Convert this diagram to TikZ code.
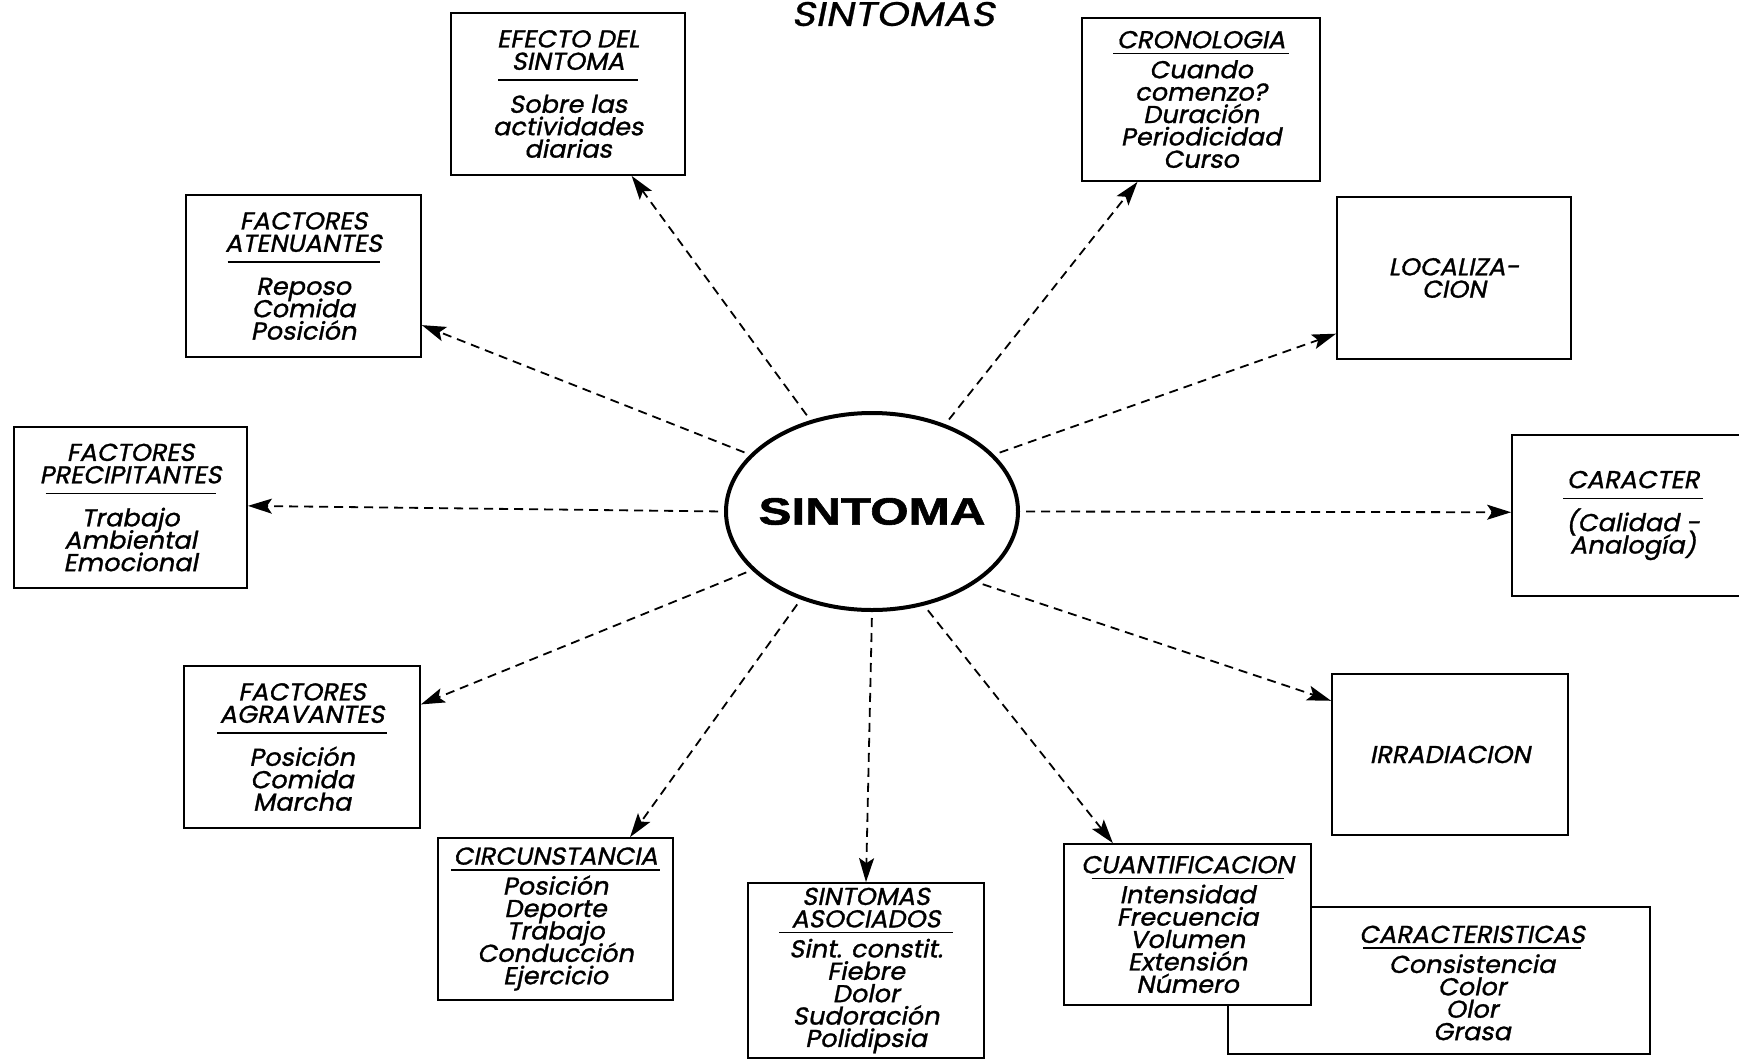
\documentclass[tikz,border=0pt]{standalone}
\usepackage{fontspec}
\usetikzlibrary{arrows.meta,calc,shapes.geometric}
\newfontfamily\gothic[FakeSlant=0.2,FakeBold=1.2,FakeStretch=1.05]{Poppins}
\newfontfamily\gothictitle[FakeSlant=0.2,FakeStretch=1.2,FakeBold=0.8]{Poppins}
\newfontfamily\heavy[FakeStretch=1.3,FakeBold=1.5]{Liberation Sans}
\newdimen\px \px=0.5pt
\newcommand\boxfont{\gothic\fontsize{12.2}{11.2}\selectfont\lineskiplimit=-100pt\relax}
\newcommand\hd[3]{\\[#1]\rule{#2\px}{0.75pt}\\[#3]}
\newcommand\loose[1]{\hd{-5.7pt}{#1}{4.8pt}}
\newcommand\tight[1]{\hd{-8.2pt}{#1}{0.8pt}}
\tikzset{
  box/.style={draw, line width=0.9pt, fill=white, inner sep=0pt, align=center, font=\boxfont},
  sz/.style 2 args={minimum width={#1*0.5pt}, minimum height={#2*0.5pt}},
  btxt/.style={inner sep=0pt, align=center, font=\boxfont},
  arr/.style={line width=0.9pt, dash pattern=on 4.5pt off 3pt, shorten <=3pt,
    -{Stealth[length=12pt,width=7.5pt,inset=2.5pt]}},
}
\begin{document}
\begin{tikzpicture}[x=0.5pt,y=-0.5pt]
\useasboundingbox[fill=white] (0,0) rectangle (1739,1060);

\node[font=\gothictitle\fontsize{17}{17}\selectfont] (title) at (893,14) {SINTOMAS};

\node[draw, ellipse, line width=2pt, inner sep=0pt, minimum width=146pt, minimum height=98.5pt]
  (sint) at (872,511.5) {};
\node[inner sep=0pt, font=\heavy\bfseries\fontsize{19}{19}\selectfont] (sinttxt) at (sint.center) {SINTOMA};

\node[box, sz={234}{162}] (efecto) at (568,94)
  {EFECTO DEL\\SINTOMA\loose{140}Sobre las\\actividades\\diarias};
\node[box, sz={238}{163}] (crono) at (1201,99.5)
  {CRONOLOGIA\tight{176}Cuando\\comenzo?\\Duración\\Periodicidad\\Curso};
\node[box, sz={234}{162}] (local) at (1454,278) {LOCALIZA-\\CION};
\node[box, sz={235}{162}] (atenu) at (303.5,276)
  {FACTORES\\ATENUANTES\loose{152}Reposo\\Comida\\Posición};
\node[box, sz={233}{161}] (precip) at (130.5,507.5)
  {FACTORES\\PRECIPITANTES\loose{170}Trabajo\\Ambiental\\Emocional};
\node[box, sz={242}{161}] (caracter) at (1633,515.5)
  {CARACTER\loose{140}(Calidad -\\Analogía)};
\node[box, sz={236}{162}] (agrav) at (302,747)
  {FACTORES\\AGRAVANTES\loose{170}Posición\\Comida\\Marcha};
\node[box, sz={236}{161}] (irrad) at (1450,754.5) {IRRADIACION};
\node[box, sz={235}{162}] (circ) at (555.5,919)
  {CIRCUNSTANCIA\tight{209}Posición\\Deporte\\Trabajo\\Conducción\\Ejercicio};
\node[box, sz={236}{175}] (asoc) at (866,970.5)
  {SINTOMAS\\ASOCIADOS\tight{174}Sint. constit.\\Fiebre\\Dolor\\Sudoración\\Polidipsia};
\node[box, sz={422}{147}] (caract) at (1439,980.5) {};
\node[btxt] (caracttxt) at (1472,983)
  {CARACTERISTICAS\tight{218}Consistencia\\Color\\Olor\\Grasa};
\node[box, sz={247}{161}] (cuant) at (1187.5,924.5)
  {CUANTIFICACION\tight{192}Intensidad\\Frecuencia\\Volumen\\Extensión\\Número};

\draw[arr] (sint.124) -- ($(efecto.south west)!0.77!(efecto.south east)$);
\draw[arr] (sint.50) -- ($(crono.south west)!0.235!(crono.south east)$);
\draw[arr] (sint.25) -- ($(local.north west)!0.84!(local.south west)$);
\draw[arr] (sint.0) -- ($(caracter.north west)!0.48!(caracter.south west)$);
\draw[arr] (sint.-34) -- ($(irrad.north west)!0.17!(irrad.south west)$);
\draw[arr] (sint.-61) -- ($(cuant.north west)!0.2!(cuant.north east)$);
\draw[arr] (sint.-90) -- (asoc.north);
\draw[arr] (sint.-129.6) -- ($(circ.north west)!0.815!(circ.north east)$);
\draw[arr] (sint.206) -- ($(agrav.north east)!0.24!(agrav.south east)$);
\draw[arr] (sint.180) -- ($(precip.north east)!0.49!(precip.south east)$);
\draw[arr] (sint.155) -- ($(atenu.north east)!0.8!(atenu.south east)$);
\end{tikzpicture}
\end{document}
